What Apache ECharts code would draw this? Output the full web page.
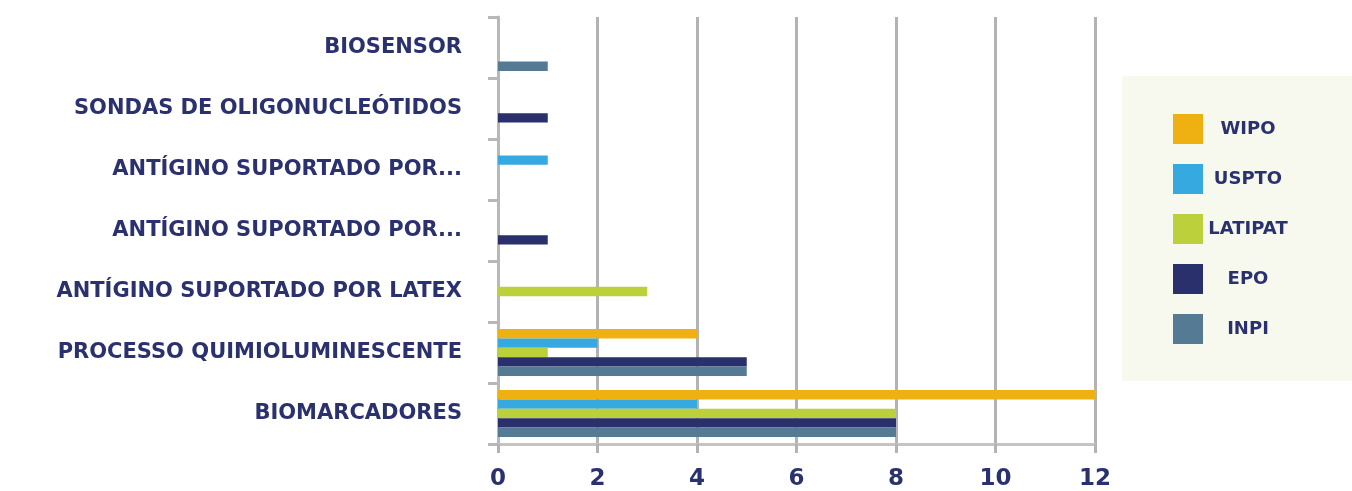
<!DOCTYPE html>
<html>
<head>
<meta charset="utf-8">
<script src="https://cdn.jsdelivr.net/npm/echarts@6/dist/echarts.min.js"></script>
<style>
  html, body { margin: 0; padding: 0; background: #fff; }
  #chart { width: 1352px; height: 491px; }
</style>
</head>
<body>
<div id="chart"></div>
<script>
// categories bottom -> top
var categories = [
    'BIOMARCADORES',
    'PROCESSO QUIMIOLUMINESCENTE',
    'ANTÍGINO SUPORTADO POR LATEX',
    'ANTÍGINO SUPORTADO POR...',
    'ANTÍGINO SUPORTADO POR...',
    'SONDAS DE OLIGONUCLEÓTIDOS',
    'BIOSENSOR'
];
var wipo    = [12, 4, null, null, null, null, null];
var uspto   = [4, 2, null, null, 1, null, null];
var latipat = [8, 1, 3, null, null, null, null];
var epo     = [8, 5, null, 1, null, 1, null];
var inpi    = [8, 5, null, null, null, null, 1];
var xTicks = [0, 2, 4, 6, 8, 10, 12];

var navy = '#2a316e';
var font = 'DejaVu Sans';

var myChart = echarts.init(document.getElementById('chart'));

var seriesList = [
    {name: 'WIPO', color: '#eeb111', data: wipo},
    {name: 'USPTO', color: '#36a9e0', data: uspto},
    {name: 'LATIPAT', color: '#bcd03c', data: latipat},
    {name: 'EPO', color: '#29306b', data: epo},
    {name: 'INPI', color: '#557a93', data: inpi}
];

var option = {
    animation: false,
    backgroundColor: '#ffffff',
    graphic: [{
        type: 'rect',
        left: 1122, top: 76,
        shape: { width: 230, height: 305 },
        style: { fill: '#f7f9ee' },
        z: -1
    }],
    grid: { left: 498, right: 257, top: 17, bottom: 47 },
    legend: {
        orient: 'vertical',
        left: 1173, top: 114,
        padding: 0,
        itemWidth: 30, itemHeight: 30, itemGap: 20,
        icon: 'rect',
        data: ['WIPO', 'USPTO', 'LATIPAT', 'EPO', 'INPI'],
        formatter: '{a|{name}}',
        textStyle: {
            rich: {
                a: { width: 80, align: 'center', color: navy, fontFamily: font, fontWeight: 'bold', fontSize: 18 }
            }
        }
    },
    xAxis: {
        type: 'value',
        min: 0, max: 12, interval: 2,
        axisLine: { show: true, lineStyle: { color: '#c4c4c4', width: 3 } },
        axisTick: { show: true, length: 9, lineStyle: { color: '#b3b3b3', width: 3 } },
        splitLine: { show: true, lineStyle: { color: '#b3b3b3', width: 3 } },
        axisLabel: {
            margin: 24, color: navy, fontFamily: font, fontWeight: 'bold', fontSize: 23,
            formatter: function (v) { return xTicks.indexOf(v) >= 0 ? String(v) : ''; }
        }
    },
    yAxis: {
        type: 'category',
        data: categories,
        axisLine: { show: true, lineStyle: { color: '#b8b8b8', width: 3 } },
        axisTick: { show: true, length: 10, lineStyle: { color: '#b8b8b8', width: 3 } },
        axisLabel: {
            margin: 36, color: navy, fontFamily: font, fontWeight: 'bold', fontSize: 21
        }
    },
    series: []
};

for (var i in seriesList) {
    var s = seriesList[i];
    option.series.push({
        name: s.name,
        type: 'bar',
        data: s.data,
        itemStyle: { color: s.color },
        barGap: '0%',
        barCategoryGap: '23%'
    });
}

myChart.setOption(option);
</script>
</body>
</html>
